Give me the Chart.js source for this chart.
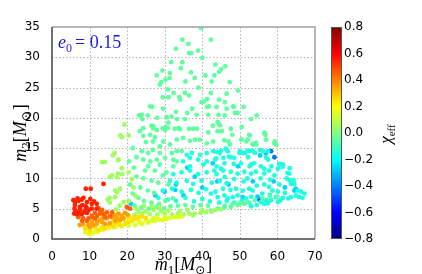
<!DOCTYPE html>
<html><head><meta charset="utf-8">
<script src="https://cdn.jsdelivr.net/npm/chart.js@4"></script>
<style>html,body{margin:0;padding:0;background:#fff;overflow:hidden}canvas{display:block}</style>
</head><body>
<canvas id="c" width="422" height="274"></canvas>
<script>
// ---- data: [m1, m2] pairs grouped by chi_eff level ----
const chiLevels = [0.55, 0.45, 0.35, 0.25, 0.15, 0.05, -0.05, -0.15, -0.27, -0.42];
const redPts = [[5.7,6.4],[6.8,6.7],[7.9,6.5],[8.4,6.8],[9.0,8.3],[10.3,8.3],[13.7,9.1],[7.1,6.3],[6.2,6.1],[9.3,6.1],[6.1,5.6],[7.4,5.3],[9.0,5.4],[9.4,5.0],[10.6,5.8],[6.0,5.0],[7.5,4.9],[8.9,4.8],[10.6,5.0],[5.9,4.2],[6.6,4.1],[7.9,4.1],[9.3,4.3],[6.3,4.6],[7.2,4.3],[8.4,4.4],[11.9,5.0],[11.9,5.8],[9.7,4.7],[8.1,5.6],[10.2,6.6],[11.2,6.2]];
const orangeRedPts = [[10.6,3.8],[12.0,3.8],[12.9,4.5],[13.8,4.1],[11.4,4.3],[12.8,4.2],[11.4,3.4],[10.6,3.6],[8.3,3.4],[9.7,3.4],[12.4,5.1],[14.2,3.6],[15.5,3.8],[16.0,4.4],[19.9,5.3],[20.8,5.0],[7.0,3.6],[8.0,3.0],[9.3,3.0],[13.3,4.8],[14.6,4.4]];
const orangePts = [[12.8,3.1],[14.6,3.4],[15.9,3.6],[16.8,3.9],[17.7,4.2],[14.1,2.5],[15.4,2.6],[16.8,3.0],[18.1,3.1],[19.0,3.4],[11.9,2.5],[11.0,2.3],[9.7,2.3],[7.4,2.3],[8.3,2.4],[10.6,2.8],[12.0,2.9],[13.3,2.8],[18.6,3.8],[19.4,4.3],[17.2,3.5],[13.5,3.4],[10.2,2.0],[20.1,4.0]];
const yellowOrangePts = [[16.3,2.0],[18.1,2.3],[19.4,2.5],[20.3,2.8],[21.2,3.0],[8.8,1.7],[10.1,1.4],[9.8,1.8],[12.4,1.4],[13.5,2.0],[15.0,2.2],[17.0,2.6],[20.4,3.6],[21.8,3.6],[23.1,3.6],[19.1,3.4],[16.4,3.3],[17.8,3.3],[22.2,3.3],[24.0,3.7],[25.0,3.5],[11.5,1.9],[14.0,1.7]];
const yellowPts = [[10.6,0.9],[8.9,1.1],[9.9,0.8],[11.1,1.1],[12.0,1.2],[13.5,1.5],[15.1,1.8],[16.9,2.0],[18.6,2.1],[20.4,2.2],[22.2,2.3],[16.0,2.5],[17.8,2.6],[19.5,2.8],[21.3,2.9],[23.1,3.0],[24.0,2.5],[25.5,2.7],[26.5,3.0],[27.5,3.0],[28.5,3.2],[29.5,3.1],[30.5,3.3],[31.5,3.5],[25.0,3.1],[27.0,3.4],[23.5,2.7],[26.0,2.9],[28.0,3.5],[30.0,3.7],[32.5,3.6],[33.5,3.6],[34.5,3.7],[10.0,1.3],[13.0,1.8]];
const yellowGreenPts = [[20.5,3.8],[22.0,4.0],[24.0,4.2],[26.0,4.1],[28.0,4.0],[30.0,4.2],[32.0,4.0],[33.5,4.2],[35.0,4.0],[36.5,4.2],[38.0,4.2],[39.5,4.3],[41.0,4.4],[42.5,4.5],[34.0,4.6],[36.0,4.8],[31.0,4.7],[29.0,4.6],[27.0,4.8],[25.0,4.6],[23.0,4.5],[37.5,3.9],[40.0,4.8],[43.5,4.8],[45.0,4.9],[22.5,5.0],[14.8,6.5],[15.3,6.8],[16.8,6.9],[17.3,7.7],[15.4,6.0],[21.7,8.5],[22.2,7.1],[19.1,6.1],[20.4,6.3],[18.0,5.5],[17.0,4.9],[13.3,12.7],[14.1,12.7],[16.2,13.8],[16.7,14.2],[17.7,13.1],[18.6,11.7],[18.2,17.1],[18.6,16.8],[19.3,18.9],[20.4,17.1],[16.0,10.5],[17.3,10.2],[18.7,10.7],[20.4,11.0],[21.3,9.9],[18.1,8.3],[16.8,8.0],[15.4,10.2],[17.6,10.8],[17.6,13.0],[26.5,5.4],[28.5,5.2],[24.5,5.5]];
const greenPts = [[39.7,34.8],[34.7,32.9],[36.3,32.2],[42.3,32.9],[33.0,31.4],[36.5,30.7],[37.1,30.7],[38.9,31.1],[40.0,29.9],[31.7,29.2],[34.7,29.2],[34.3,28.2],[29.4,27.8],[27.9,27.0],[31.4,27.4],[31.3,26.6],[30.2,26.3],[29.1,25.9],[28.7,25.5],[38.0,26.6],[40.8,27.0],[43.2,27.0],[43.5,28.8],[45.0,28.0],[44.5,27.6],[46.1,28.5],[32.4,24.1],[35.4,24.1],[36.5,23.7],[33.9,23.4],[31.0,23.4],[42.3,24.1],[47.3,25.9],[49.5,24.5],[30.9,24.7],[29.5,23.4],[37.3,21.5],[41.3,23.1],[41.3,21.8],[40.4,22.7],[29.6,21.5],[26.7,21.8],[23.2,20.4],[23.5,20.4],[25.5,20.4],[24.0,19.8],[30.5,20.1],[31.8,20.2],[33.3,19.8],[35.4,19.8],[33.7,18.3],[34.1,18.1],[32.7,18.2],[30.8,18.3],[30.3,18.5],[29.5,18.3],[26.5,18.7],[26.9,18.3],[36.5,18.2],[37.6,18.2],[38.6,18.2],[46.0,22.6],[43.8,21.8],[46.5,21.5],[48.4,21.8],[46.0,20.4],[48.7,20.8],[49.4,20.8],[54.5,20.4],[44.1,19.3],[44.5,18.9],[47.6,18.2],[42.8,18.7],[44.1,17.8],[52.5,17.2],[56.5,17.5],[56.8,17.2],
[26.1,21.9],[34.1,23.0],[39.8,22.6],[41.8,21.9],[44.5,23.0],[23.9,20.5],[41.6,20.5],[44.3,20.5],[24.3,18.3],[27.0,18.6],[27.9,18.0],[30.1,18.0],[31.0,19.2],[41.6,17.6],[44.7,18.8],[45.2,17.8],[23.4,17.8],[24.3,17.0],[26.1,17.2],[27.4,16.8],[26.9,16.1],[28.7,15.3],[29.6,16.1],[31.4,15.6],[33.2,16.4],[34.9,16.7],[36.7,16.2],[38.1,16.4],[39.4,16.4],[41.2,15.8],[42.9,16.1],
[48.2,21.9],[52.6,17.1],[50.4,16.4],[51.7,16.1],[53.5,15.6],[54.4,15.6],[56.6,17.5],[57.0,16.4],[59.3,16.1],[59.7,15.6],[47.0,16.1],[47.4,15.6],[45.9,16.3],[50.5,16.4],[52.1,16.4],[53.4,15.7],[54.3,15.9],[59.2,15.8],
[23.9,14.5],[25.6,14.2],[26.9,14.7],[28.7,14.2],[31.9,14.2],[33.2,14.5],[34.5,14.5],[24.3,13.1],[26.1,12.8],[27.9,13.1],[30.1,13.4],[32.3,13.1],[33.2,12.8],[25.6,12.0],[28.7,12.3],[32.3,12.0],
[24.8,11.3],[27.4,11.3],[30.5,11.0],[22.5,10.3],[24.3,10.0],[26.5,9.6],[28.3,9.3],[23.5,8.5],[25.5,8.0],[27.2,7.6],[21.5,7.5],[23.0,6.8],[24.5,6.3],[26.5,6.0],[28.5,5.8],[22.0,5.5],[23.8,5.2],[25.8,5.0],[27.8,5.3],[29.8,5.0],[31.5,5.4],[20.8,9.0],[21.8,11.8],[29.5,10.5],[31.0,9.0],[33.5,5.5],[35.5,5.6],[37.5,5.3],[39.5,5.6],[41.5,5.5],[30.2,6.3],[32.2,6.7],
[46.0,5.5],[48.0,5.7],[50.0,5.9],[52.0,6.2],[54.0,6.4],[56.0,6.7],[58.0,7.0],[60.0,7.0],[44.1,5.0],[42.3,4.7],[45.9,5.2],[47.6,5.3],[49.4,5.6],[51.2,5.8],
[37.0,27.5],[35.5,26.0],[39.0,25.0],[33.0,21.0],[38.5,20.5],[36.0,20.8],[28.0,20.0],[25.0,16.0],[21.5,15.0],[22.5,13.5],[20.5,12.8],[48.0,17.2],[50.5,18.5],[46.5,24.0],[42.5,26.0],[51.0,21.8],[53.0,19.8]];
const cyanGreenPts = [[35.9,13.9],[37.2,14.2],[39.4,13.9],[41.2,14.2],[42.9,14.5],[44.7,14.2],[34.9,12.8],[36.7,13.4],[38.9,13.1],[41.2,12.8],[43.4,13.1],[45.6,13.4],[36.7,12.0],[40.3,12.3],[43.8,12.0],
[50.0,14.5],[51.4,14.2],[52.6,14.5],[54.0,14.2],[55.3,14.7],[56.2,14.5],[57.5,14.5],[52.2,13.5],[57.0,13.4],[57.5,13.1],[47.1,13.6],[46.8,14.5],[46.3,14.9],[45.0,14.6],[43.7,14.4],[47.6,13.5],[48.5,13.4],[43.7,13.3],[49.9,14.2],[50.8,14.2],[53.4,14.6],[52.1,14.6],[45.9,12.5],[48.4,12.4],[50.3,12.5],[53.0,12.3],[53.8,12.5],[55.6,12.0],[56.5,11.6],[60.5,12.4],[61.0,12.2],[60.1,11.6],[61.4,11.9],[62.7,10.9],[63.2,10.8],[43.2,11.3],[45.0,11.6],[47.6,11.1],[49.4,10.8],[51.2,11.1],[53.0,10.8],[54.3,11.1],[56.5,10.8],[57.8,11.3],[59.2,10.5],[63.2,9.7],[64.3,9.7],[63.6,9.1],[64.5,9.1],[65.4,8.0],[66.3,7.8],[67.2,7.5],[66.7,6.8],[65.8,6.9],[64.9,7.2],[63.6,6.9],[62.9,6.7],[53.0,7.0],[51.6,6.7],[49.4,7.2],[48.1,6.9],[46.8,6.7],[45.9,7.2],[44.1,6.9],[42.3,7.5],[52.5,8.3],[53.4,8.0],[50.8,8.0],[49.0,8.3],[58.7,8.0],[57.8,8.6],[60.1,7.8],[59.6,6.9],[60.8,6.4],[60.1,6.1],[58.3,6.4],[57.0,6.4],[56.5,5.8],[55.6,6.1],[60.6,12.3],[61.5,12.3],[63.3,11.7],[58.4,12.0],[52.6,12.0],
[32.3,10.7],[34.5,11.0],[36.7,11.3],[38.9,10.7],[41.2,11.0],[43.8,10.7],[45.6,11.3],[31.4,9.6],[33.2,9.3],[35.9,9.6],[37.6,9.1],[39.8,9.6],[42.5,9.3],[44.7,9.6],[46.5,9.2],[29.5,8.0],[32.0,8.3],[34.5,7.8],[37.0,8.1],[39.0,7.6],[41.0,8.2],[43.5,7.8],[45.5,8.3],[47.5,8.1],[28.3,6.8],[30.8,6.5],[33.0,6.3],[35.5,6.8],[37.8,6.2],[40.0,6.6],[42.0,6.2],[44.5,6.0],[46.5,6.3],[48.5,6.0],[50.5,6.3],[52.5,6.0],[54.5,5.6],[53.0,5.4],[57.5,5.9],[61.5,6.8],[62.0,7.6],[56.0,7.5],[58.0,7.3],[54.5,8.8],[56.5,9.0],[51.0,9.5],[48.5,9.9],[46.0,10.2],[60.5,9.0],[62.5,10.0],[58.0,9.8],[55.5,10.0],[52.0,10.0]];
const cyanPts = [[30.0,7.8],[32.8,8.1],[36.0,11.8],[33.0,9.0],[38.0,10.3],[40.0,8.5],[44.0,9.5],[47.0,9.0],[50.8,6.9],[54.7,7.0],[53.5,9.5],[59.0,9.5],[62.0,8.5],[64.5,8.0],[64.9,8.3],[56.9,14.1],[55.4,13.8],[21.0,5.8],[42.8,12.5],[49.5,12.0],[27.5,7.2],[35.0,7.2]];
const bluePts = [[58.3,14.5],[59.2,13.5],[55.2,6.5]];
const groups = [redPts, orangeRedPts, orangePts, yellowOrangePts, yellowPts, yellowGreenPts, greenPts, cyanGreenPts, cyanPts, bluePts];

const xTicks = [0,10,20,30,40,50,60,70];
const yTicks = [0,5,10,15,20,25,30,35];
const cbTicks = [-0.8,-0.6,-0.4,-0.2,0.0,0.2,0.4,0.6,0.8];
const cbMin = -0.8, cbMax = 0.8;

function jet(v){
  const t = (v - cbMin) / (cbMax - cbMin);
  const c = x => Math.round(255*Math.max(0, Math.min(1, x)));
  return `rgb(${c(1.5-Math.abs(4*t-3))},${c(1.5-Math.abs(4*t-2))},${c(1.5-Math.abs(4*t-1))})`;
}

const datasets = groups.map((g, i) => {
  const col = jet(chiLevels[i]);
  return {
    data: g.map(p => ({x: p[0], y: p[1]})),
    backgroundColor: col, borderColor: col,
    pointBorderWidth: 0, pointRadius: 2.4, pointHoverRadius: 2.4,
    order: i < 6 ? 0 : 1
  };
});

const SERIF = '"Liberation Serif", "DejaVu Serif", serif';
function drawRuns(ctx, runs, x, y, align){
  let w = 0;
  runs.forEach(r => { ctx.font = r[1]; w += ctx.measureText(r[0]).width + (r[3]||0); });
  let cx = align === 'center' ? x - w/2 : x;
  ctx.textAlign = 'left'; ctx.textBaseline = 'alphabetic';
  runs.forEach(r => { ctx.font = r[1]; ctx.fillText(r[0], cx, y + (r[2]||0)); cx += ctx.measureText(r[0]).width + (r[3]||0); });
}

const deco = {
  id: 'deco',
  beforeDatasetsDraw(chart){
    const {ctx, chartArea: a, scales: {x, y}} = chart;
    ctx.save();
    ctx.strokeStyle = '#b4b4b4'; ctx.lineWidth = 1; ctx.setLineDash([1.5, 2]);
    xTicks.slice(1, -1).forEach(v => { const px = Math.round(x.getPixelForValue(v)) + 0.5; ctx.beginPath(); ctx.moveTo(px, a.top); ctx.lineTo(px, a.bottom); ctx.stroke(); });
    yTicks.slice(1, -1).forEach(v => { const py = Math.round(y.getPixelForValue(v)) + 0.5; ctx.beginPath(); ctx.moveTo(a.left, py); ctx.lineTo(a.right, py); ctx.stroke(); });
    ctx.restore();
  },
  afterDraw(chart){
    const {ctx, chartArea: a} = chart;
    ctx.save();
    ctx.lineWidth = 1.5;
    ctx.strokeStyle = '#a0a0a0';
    ctx.beginPath(); ctx.moveTo(a.left, a.top); ctx.lineTo(a.right, a.top); ctx.lineTo(a.right, a.bottom); ctx.stroke();
    ctx.strokeStyle = '#444';
    ctx.beginPath(); ctx.moveTo(a.left, a.top); ctx.lineTo(a.left, a.bottom); ctx.lineTo(a.right, a.bottom); ctx.stroke();

    ctx.fillStyle = 'rgb(25,25,235)';
    drawRuns(ctx, [['e', 'italic 18px '+SERIF], ['0', '12px '+SERIF, 4, 3], ['= 0.15', '18px '+SERIF]], a.left + 6, a.top + 21, 'left');

    ctx.fillStyle = '#000';
    const xt = [['m', 'italic 18px '+SERIF], ['1', '13px '+SERIF, 4], ['[', '18px '+SERIF], ['M', 'italic 18px '+SERIF], ['\u2299', '12px "DejaVu Sans"', 4, 1], [']', '18px '+SERIF]];
    drawRuns(ctx, xt, (a.left + a.right)/2, 270, 'center');
    ctx.save();
    ctx.translate(26, (a.top + a.bottom)/2);
    ctx.rotate(-Math.PI/2);
    const yt = [['m', 'italic 18px '+SERIF], ['2', '13px '+SERIF, 4], ['[', '18px '+SERIF], ['M', 'italic 18px '+SERIF], ['\u2299', '12px "DejaVu Sans"', 4, 1], [']', '18px '+SERIF]];
    drawRuns(ctx, yt, 0, 0, 'center');
    ctx.restore();

    const cbL = 331, cbR = 342, cbT = a.top, cbB = a.bottom;
    const grad = ctx.createLinearGradient(0, cbB, 0, cbT);
    [0, 0.125, 0.375, 0.625, 0.875, 1].forEach(t => grad.addColorStop(t, jet(cbMin + t*(cbMax-cbMin))));
    ctx.fillStyle = grad;
    ctx.fillRect(cbL, cbT, cbR - cbL, cbB - cbT);
    ctx.strokeStyle = '#555'; ctx.lineWidth = 1;
    ctx.strokeRect(cbL + 0.5, cbT + 0.5, cbR - cbL - 1, cbB - cbT - 1);
    ctx.fillStyle = '#000';
    ctx.font = '12px "DejaVu Sans"'; ctx.textAlign = 'left'; ctx.textBaseline = 'middle';
    cbTicks.forEach(v => {
      const py = cbB - (v - cbMin)/(cbMax - cbMin)*(cbB - cbT);
      ctx.fillText((v < 0 ? '\u2212' : '') + Math.abs(v).toFixed(1), cbR + 2, py);
    });
    ctx.save();
    ctx.translate(391, 134);
    ctx.rotate(-Math.PI/2);
    drawRuns(ctx, [['\u03c7', 'italic 17px '+SERIF], ['eff', '11px '+SERIF, 4]], 0, 0, 'center');
    ctx.restore();
    ctx.restore();
  }
};

new Chart(document.getElementById('c'), {
  type: 'scatter',
  data: {datasets},
  options: {
    responsive: false, animation: false, devicePixelRatio: 1,
    events: [],
    layout: {padding: {left: 0, top: 27, right: 107, bottom: 0}},
    plugins: {legend: {display: false}, tooltip: {enabled: false}},
    scales: {
      x: {type: 'linear', min: 0, max: 70,
        afterBuildTicks: s => { s.ticks = xTicks.map(v => ({value: v})); },
        ticks: {color: '#000', font: {family: 'DejaVu Sans', size: 12}, padding: 3, maxRotation: 0, autoSkip: false},
        grid: {display: false}, border: {display: false},
        afterFit: s => { s.height = 35; }},
      y: {type: 'linear', min: 0, max: 35,
        afterBuildTicks: s => { s.ticks = yTicks.map(v => ({value: v})); },
        ticks: {color: '#000', font: {family: 'DejaVu Sans', size: 12}, padding: 4, autoSkip: false},
        grid: {display: false}, border: {display: false},
        afterFit: s => { s.width = 52; }}
    }
  },
  plugins: [deco]
});
</script>
</body></html>
